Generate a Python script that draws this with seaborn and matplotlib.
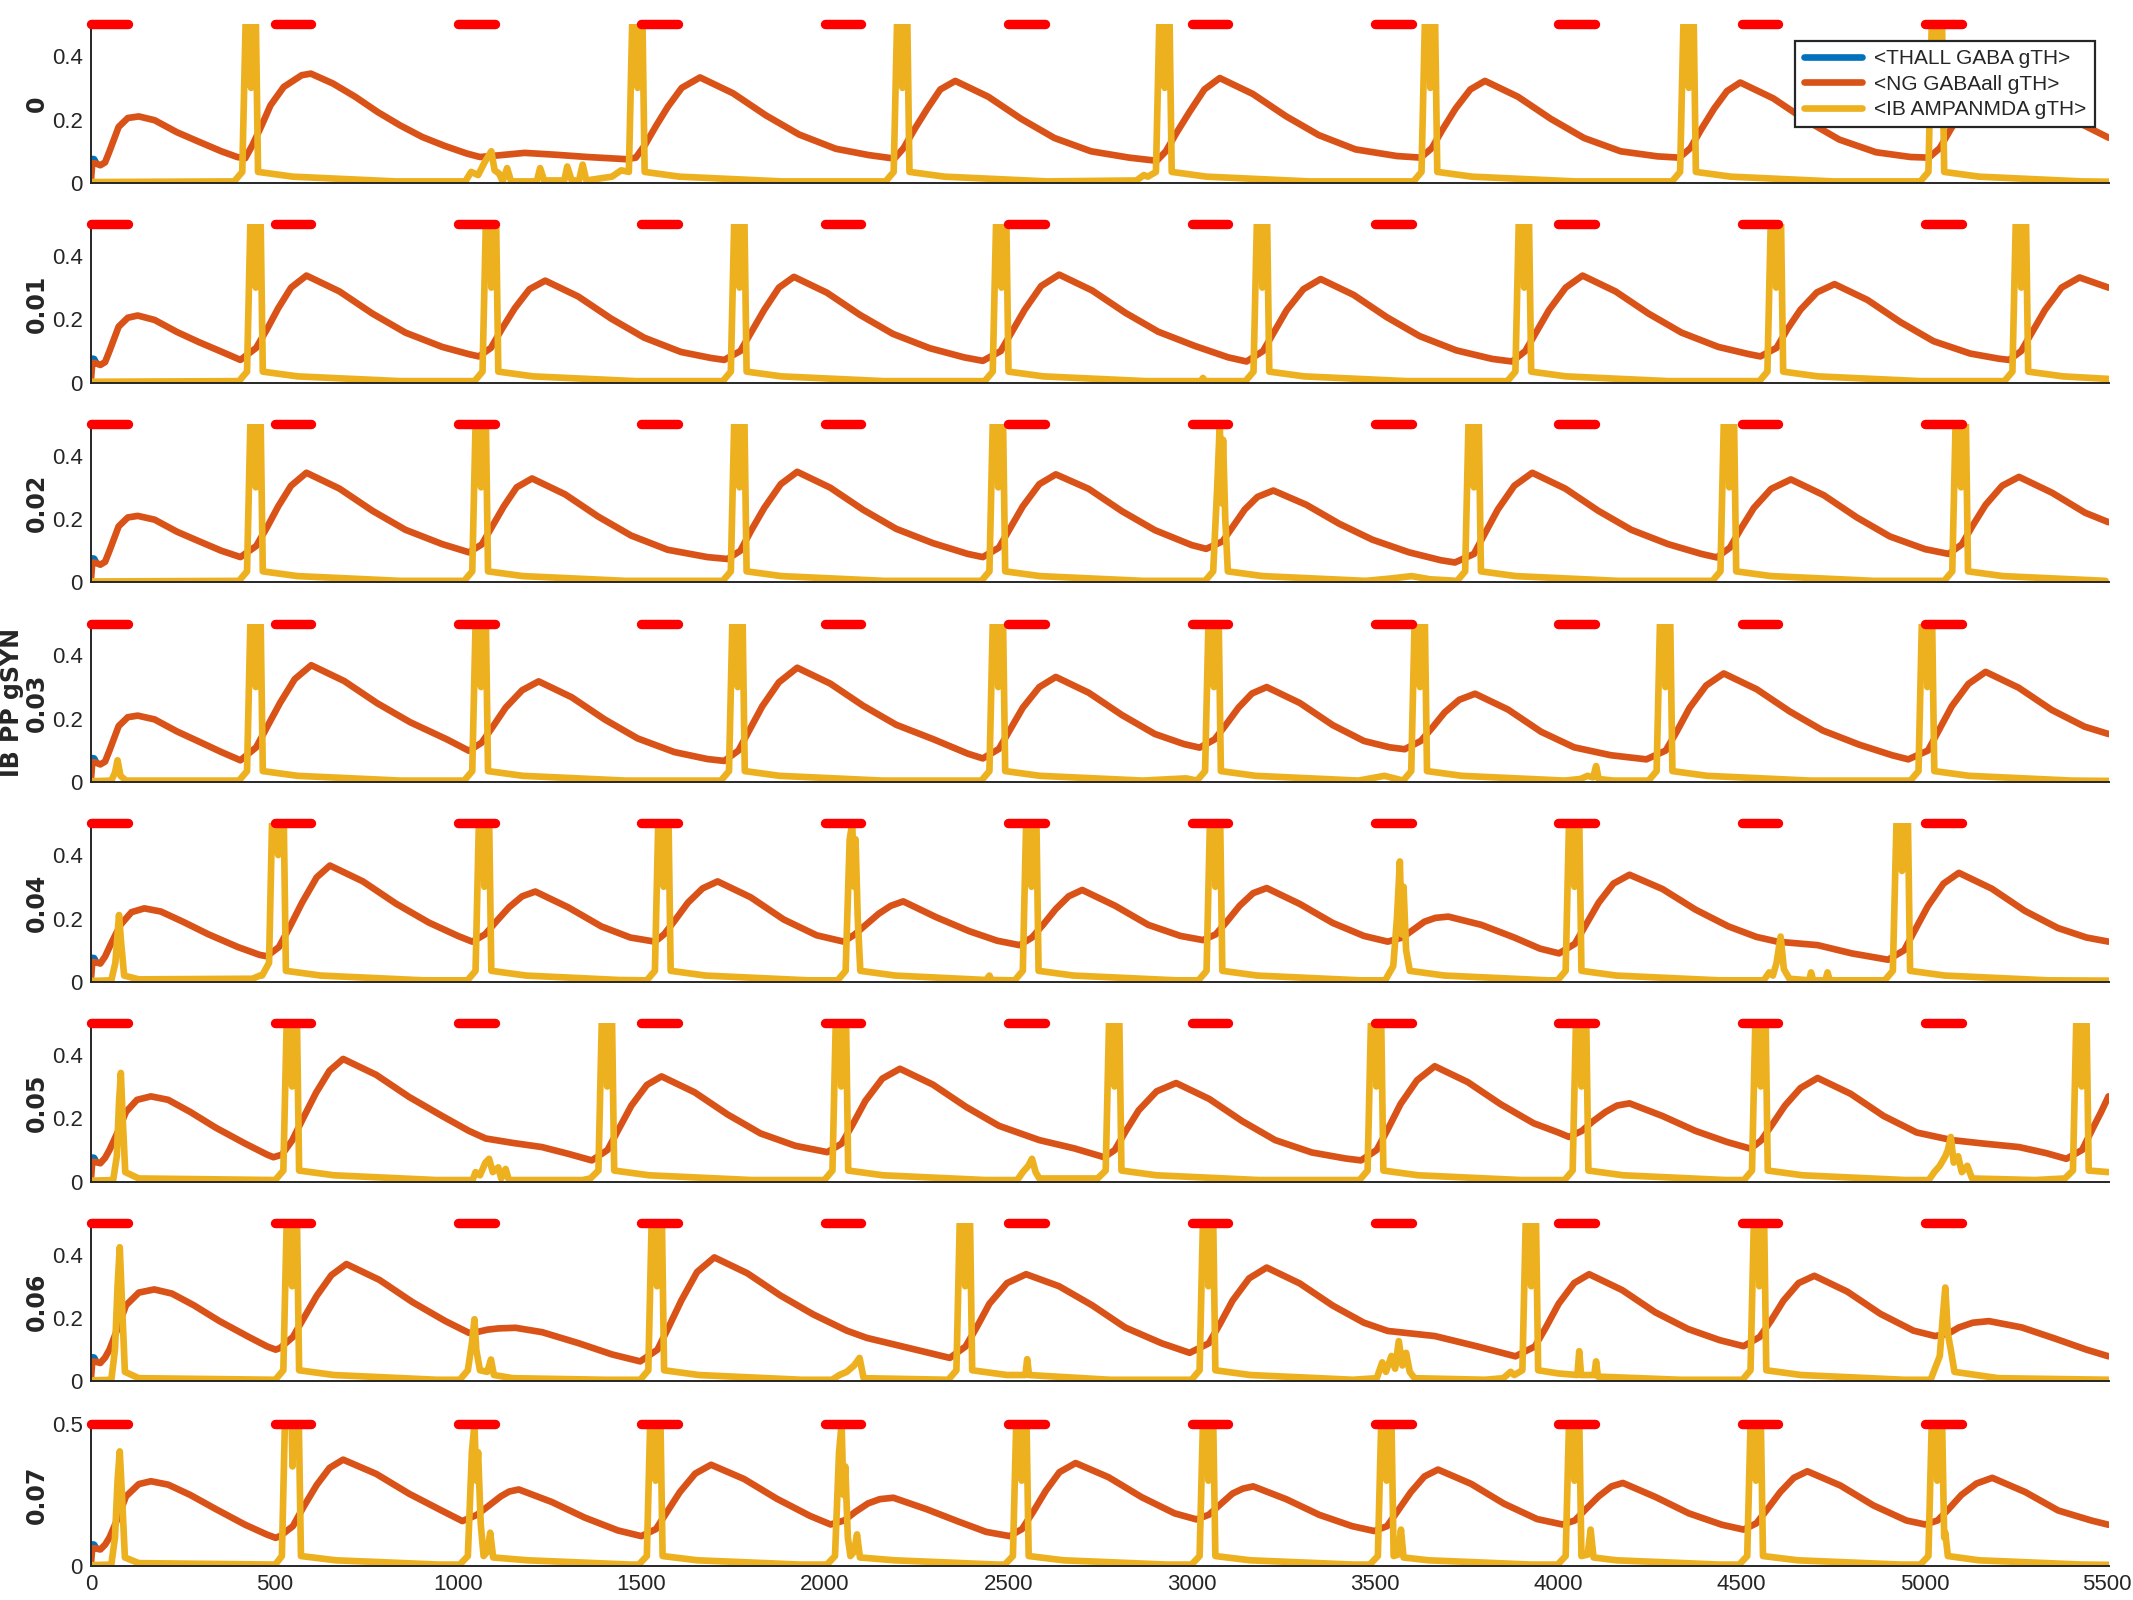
import matplotlib
matplotlib.use("Agg")
import matplotlib.pyplot as plt
from matplotlib.transforms import ScaledTranslation
import seaborn as sns

# ---------------- data ----------------
GSYN_LABELS = ["0", "0.01", "0.02", "0.03", "0.04", "0.05", "0.06", "0.07"]
SERIES_NAMES = ["<THALL GABA gTH>", "<NG GABAall gTH>", "<IB AMPANMDA gTH>"]
STIM_START = [0, 500, 1000, 1500, 2000, 2500, 3000, 3500, 4000, 4500, 5000]
STIM_END = [100, 600, 1100, 1600, 2100, 2600, 3100, 3600, 4100, 4600, 5100]
STIM_LEVEL = 0.5
X_TICKS = [0, 500, 1000, 1500, 2000, 2500, 3000, 3500, 4000, 4500, 5000, 5500]
Y_TICKS = [0, 0.2, 0.4]
Y_TICKS_LAST = [0, 0.5]

THALL = [(0, .06), (3, .076), (8, .075), (14, .062)]

NG_0 = [(0,.015),(3,.062),(12,.062),(25,.056),(38,.065),(50,.10),(75,.177),(100,.205),(130,.21),(173,.198),(234,.16),(294,.13),(355,.10),(398,.082),(420,.078),
        (440,.12),(465,.182),(489,.245),(525,.303),(574,.34),(599,.345),(659,.314),(720,.272),(781,.224),(842,.182),(903,.145),(964,.117),(1024,.093),(1060,.082),(1109,.087),(1182,.095),(1268,.089),(1353,.082),(1460,.075),(1485,.08),
        (1510,.12),(1540,.18),(1572,.24),(1610,.30),(1660,.333),(1750,.283),(1840,.213),(1930,.153),(2030,.108),(2120,.088),(2190,.077),
        (2215,.11),(2245,.17),(2280,.235),(2315,.295),(2356,.322),(2446,.272),(2536,.202),(2626,.142),(2726,.100),(2830,.080),(2905,.070),
        (2930,.10),(2960,.16),(2995,.225),(3035,.295),(3077,.331),(3167,.281),(3257,.211),(3347,.151),(3447,.106),(3560,.085),(3625,.080),
        (3655,.11),(3685,.17),(3720,.235),(3760,.295),(3800,.322),(3890,.272),(3980,.202),(4070,.142),(4170,.100),(4270,.084),(4330,.080),
        (4360,.11),(4390,.17),(4425,.235),(4460,.290),(4496,.317),(4586,.267),(4676,.197),(4766,.137),(4866,.097),(4960,.082),(5010,.080),
        (5040,.11),(5070,.17),(5105,.235),(5150,.30),(5205,.330),(5295,.28),(5385,.21),(5445,.175),(5500,.143)]

NG_1 = [(0,.015),(3,.062),(12,.062),(25,.056),(38,.065),(50,.10),(75,.177),(100,.205),(127,.212),(173,.198),(234,.16),(294,.128),(355,.098),(407,.072),
        (450,.11),(480,.17),(510,.235),(545,.30),(587,.338),(677,.288),(767,.218),(857,.158),(957,.113),(1030,.09),(1057,.083),
        (1090,.11),(1120,.17),(1155,.235),(1195,.295),(1238,.322),(1328,.272),(1418,.202),(1508,.142),(1608,.097),(1690,.078),(1726,.072),
        (1770,.10),(1800,.16),(1835,.23),(1875,.30),(1916,.334),(2006,.284),(2096,.214),(2186,.154),(2286,.109),(2380,.08),(2431,.069),
        (2480,.10),(2510,.16),(2545,.23),(2590,.305),(2639,.341),(2729,.291),(2819,.221),(2909,.161),(3009,.116),(3100,.08),(3150,.067),
        (3195,.10),(3225,.16),(3260,.23),(3305,.295),(3352,.327),(3442,.277),(3532,.207),(3622,.147),(3722,.102),(3820,.075),(3874,.067),
        (3910,.10),(3940,.16),(3975,.23),(4020,.30),(4066,.338),(4156,.288),(4246,.218),(4336,.158),(4436,.113),(4520,.09),(4551,.083),
        (4595,.11),(4625,.17),(4660,.23),(4705,.285),(4753,.311),(4843,.261),(4933,.191),(5023,.131),(5123,.092),(5200,.076),(5229,.072),
        (5262,.10),(5292,.16),(5327,.23),(5372,.30),(5421,.332),(5500,.30)]

NG_2 = [(0,.015),(3,.062),(12,.062),(25,.056),(38,.065),(50,.10),(75,.177),(100,.205),(127,.21),(173,.198),(234,.16),(294,.13),(355,.10),(407,.08),
        (450,.115),(480,.175),(510,.24),(545,.305),(587,.346),(677,.296),(767,.226),(857,.166),(957,.121),(1030,.095),
        (1065,.12),(1095,.18),(1125,.24),(1160,.30),(1202,.328),(1292,.278),(1382,.208),(1472,.148),(1572,.103),(1680,.08),(1735,.074),
        (1770,.10),(1800,.165),(1835,.235),(1880,.31),(1925,.349),(2015,.299),(2105,.229),(2195,.169),(2295,.124),(2390,.09),(2431,.08),
        (2475,.11),(2505,.17),(2540,.24),(2585,.31),(2630,.341),(2720,.295),(2810,.225),(2900,.165),(3000,.118),(3040,.106),
        (3085,.13),(3115,.18),(3145,.23),(3180,.27),(3223,.29),(3313,.245),(3403,.185),(3493,.135),(3593,.095),(3680,.07),(3718,.063),
        (3770,.09),(3800,.155),(3835,.23),(3880,.305),(3929,.346),(4019,.296),(4109,.226),(4199,.166),(4299,.121),(4390,.09),(4432,.079),
        (4468,.11),(4498,.17),(4533,.235),(4580,.295),(4634,.325),(4724,.275),(4814,.205),(4904,.145),(5000,.105),(5064,.09),
        (5100,.12),(5130,.18),(5165,.245),(5210,.305),(5256,.333),(5346,.283),(5436,.22),(5500,.19)]

NG_3 = [(0,.015),(3,.062),(12,.062),(25,.056),(38,.065),(50,.10),(75,.177),(100,.205),(127,.21),(173,.198),(234,.16),(294,.128),(355,.095),(407,.069),
        (450,.11),(480,.175),(515,.25),(555,.325),(600,.369),(690,.319),(780,.249),(870,.189),(970,.135),(1030,.099),
        (1065,.125),(1095,.175),(1130,.235),(1175,.29),(1220,.318),(1310,.268),(1400,.198),(1490,.138),(1590,.095),(1680,.073),(1726,.067),
        (1765,.10),(1795,.165),(1830,.24),(1875,.315),(1925,.361),(2015,.311),(2105,.241),(2195,.181),(2295,.136),(2390,.09),(2431,.075),
        (2475,.105),(2505,.165),(2540,.235),(2585,.30),(2630,.332),(2720,.282),(2810,.212),(2900,.152),(2980,.12),(3022,.109),
        (3063,.135),(3093,.18),(3128,.235),(3165,.28),(3205,.30),(3295,.25),(3385,.18),(3470,.13),(3540,.11),(3581,.104),
        (3625,.13),(3655,.17),(3690,.22),(3730,.26),(3773,.279),(3863,.229),(3953,.159),(4043,.11),(4143,.085),(4240,.072),
        (4293,.10),(4323,.16),(4358,.235),(4403,.305),(4451,.343),(4541,.293),(4631,.223),(4721,.163),(4821,.118),(4910,.085),(4954,.072),
        (5008,.10),(5038,.165),(5073,.24),(5118,.31),(5165,.348),(5255,.298),(5345,.228),(5435,.175),(5500,.152)]

NG_4 = [(0,.015),(3,.062),(12,.062),(25,.058),(38,.08),(54,.12),(80,.18),(110,.22),(145,.232),(190,.222),(250,.19),(320,.15),(400,.11),(460,.085),(479,.081),
        (512,.11),(540,.17),(575,.25),(615,.33),(651,.367),(741,.317),(831,.247),(921,.187),(1000,.145),(1039,.127),
        (1074,.15),(1104,.19),(1139,.235),(1175,.27),(1211,.285),(1301,.235),(1391,.175),(1470,.14),(1537,.127),
        (1562,.15),(1592,.195),(1627,.25),(1667,.295),(1708,.317),(1798,.267),(1888,.197),(1978,.147),(2052,.127),
        (2082,.15),(2112,.18),(2147,.215),(2180,.24),(2214,.254),(2304,.204),(2394,.16),(2470,.13),(2531,.116),
        (2565,.14),(2595,.18),(2630,.23),(2665,.27),(2702,.29),(2792,.24),(2882,.18),(2970,.145),(3031,.132),
        (3066,.15),(3096,.19),(3131,.24),(3168,.28),(3205,.296),(3295,.246),(3385,.186),(3470,.145),(3535,.127),
        (3575,.14),(3605,.165),(3635,.19),(3665,.202),(3700,.206),(3790,.18),(3880,.14),(3950,.105),(4002,.09),
        (4045,.12),(4075,.18),(4110,.25),(4150,.31),(4194,.338),(4284,.293),(4374,.228),(4464,.175),(4540,.142),(4597,.127),(4707,.116),(4800,.09),(4899,.07),
        (4943,.10),(4973,.165),(5008,.24),(5050,.31),(5092,.344),(5182,.294),(5272,.224),(5362,.17),(5440,.14),(5500,.127)]

NG_5 = [(0,.015),(3,.062),(12,.062),(25,.058),(38,.075),(50,.10),(70,.15),(95,.22),(125,.258),(163,.269),(210,.258),(270,.22),(340,.17),(420,.12),(480,.085),(497,.077),
        (520,.085),(548,.13),(578,.20),(613,.28),(650,.35),(687,.387),(777,.337),(867,.267),(957,.207),(1030,.16),(1076,.136),(1150,.122),(1229,.109),(1300,.088),(1365,.067),
        (1408,.10),(1438,.165),(1473,.24),(1515,.305),(1555,.332),(1645,.282),(1735,.212),(1825,.152),(1920,.113),(2007,.093),
        (2046,.12),(2076,.18),(2111,.255),(2157,.325),(2205,.356),(2295,.306),(2385,.236),(2475,.176),(2585,.131),(2680,.105),(2762,.077),
        (2791,.10),(2821,.16),(2856,.225),(2905,.285),(2958,.311),(3048,.261),(3138,.191),(3228,.131),(3328,.092),(3420,.073),(3462,.067),
        (3505,.10),(3535,.165),(3570,.245),(3615,.32),(3663,.364),(3753,.314),(3843,.244),(3933,.184),(4000,.155),(4029,.141),
        (4064,.16),(4094,.19),(4129,.22),(4160,.24),(4194,.247),(4284,.207),(4374,.16),(4460,.125),(4524,.104),
        (4553,.13),(4583,.18),(4618,.24),(4660,.295),(4707,.327),(4797,.277),(4887,.207),(4977,.155),(5073,.131),(5160,.12),(5256,.109),(5330,.09),(5385,.072),
        (5428,.10),(5458,.17),(5480,.22),(5500,.269)]

NG_6 = [(0,.015),(3,.062),(12,.062),(25,.058),(38,.075),(50,.10),(70,.16),(95,.24),(130,.28),(172,.29),(220,.277),(280,.24),(350,.19),(430,.14),(480,.11),(503,.10),
        (515,.105),(550,.14),(580,.20),(615,.27),(655,.335),(696,.37),(786,.32),(876,.25),(966,.19),(1030,.153),
        (1050,.155),(1080,.163),(1110,.167),(1157,.169),(1230,.155),(1330,.12),(1420,.085),(1497,.063),
        (1544,.10),(1574,.17),(1609,.255),(1652,.345),(1699,.391),(1789,.341),(1879,.271),(1969,.211),(2060,.16),(2115,.137),(2230,.105),(2341,.074),
        (2384,.11),(2414,.17),(2449,.245),(2497,.31),(2549,.338),(2639,.30),(2729,.24),(2819,.17),(2919,.12),(2995,.09),
        (3047,.12),(3077,.18),(3112,.255),(3157,.325),(3205,.359),(3295,.309),(3385,.239),(3470,.185),(3535,.159),(3663,.143),(3780,.11),(3883,.079),
        (3936,.11),(3966,.17),(4001,.245),(4043,.31),(4084,.338),(4174,.288),(4264,.218),(4354,.165),(4440,.13),(4505,.111),
        (4549,.14),(4579,.19),(4614,.255),(4655,.31),(4698,.333),(4788,.283),(4878,.213),(4968,.16),(5027,.143),
        (5062,.15),(5092,.17),(5130,.185),(5174,.19),(5264,.17),(5354,.135),(5440,.10),(5500,.079)]

NG_7 = [(0,.015),(3,.062),(12,.062),(25,.058),(38,.075),(50,.10),(70,.16),(95,.245),(130,.288),(163,.298),(210,.286),(270,.25),(340,.20),(420,.145),(480,.11),(503,.099),
        (515,.105),(550,.14),(580,.21),(615,.285),(650,.345),(687,.374),(777,.324),(867,.254),(957,.194),(1012,.158),
        (1052,.18),(1082,.21),(1117,.245),(1140,.262),(1166,.269),(1256,.225),(1346,.17),(1436,.125),(1500,.105),
        (1540,.13),(1570,.19),(1605,.26),(1647,.325),(1690,.356),(1780,.306),(1870,.236),(1960,.176),(2016,.146),
        (2053,.16),(2083,.19),(2118,.22),(2150,.235),(2187,.24),(2277,.20),(2367,.155),(2440,.12),(2504,.105),
        (2538,.13),(2568,.19),(2603,.265),(2640,.33),(2684,.362),(2774,.312),(2864,.242),(2954,.185),(3013,.164),
        (3047,.18),(3077,.215),(3112,.255),(3140,.272),(3168,.28),(3258,.235),(3348,.18),(3438,.14),(3498,.123),
        (3533,.14),(3563,.195),(3598,.26),(3635,.315),(3672,.339),(3762,.289),(3852,.219),(3942,.165),(4011,.146),
        (4045,.16),(4075,.20),(4110,.245),(4145,.28),(4176,.292),(4266,.242),(4356,.185),(4446,.145),(4505,.128),
        (4540,.15),(4570,.20),(4605,.26),(4642,.31),(4679,.333),(4769,.283),(4859,.213),(4949,.16),(5000,.146),
        (5034,.16),(5064,.20),(5099,.25),(5140,.29),(5183,.31),(5273,.26),(5363,.195),(5453,.16),(5500,.145)]

IB_0 = [(0,.003),(390,.005),(412,.035),(423,.6),(433,.6),(436,.3),(440,.6),(448,.6),(455,.035),(550,.02),(830,.005),
        (1020,.005),(1036,.035),(1055,.025),(1073,.066),(1091,.10),(1100,.04),(1112,.03),(1122,.005),(1134,.047),(1145,.005),(1215,.005),(1224,.047),(1235,.008),(1290,.008),(1298,.052),(1310,.008),(1330,.008),(1340,.058),(1350,.008),(1420,.02),(1445,.04),(1466,.035),
        (1477,.6),(1487,.6),(1490,.3),(1494,.6),(1502,.6),(1509,.035),(1604,.02),(1884,.005),
        (2166,.005),(2188,.035),(2199,.6),(2209,.6),(2212,.3),(2216,.6),(2224,.6),(2231,.035),(2326,.02),(2606,.005),
        (2850,.008),(2870,.025),(2881,.02),(2903,.035),(2914,.6),(2924,.6),(2927,.3),(2931,.6),(2939,.6),(2946,.035),(3041,.02),(3321,.005),
        (3605,.005),(3627,.035),(3638,.6),(3648,.6),(3651,.3),(3655,.6),(3663,.6),(3670,.035),(3765,.02),(4045,.005),
        (4310,.005),(4332,.035),(4343,.6),(4353,.6),(4356,.3),(4360,.6),(4368,.6),(4375,.035),(4470,.02),(4750,.005),
        (4987,.005),(5009,.035),(5020,.6),(5030,.6),(5033,.3),(5037,.6),(5045,.6),(5052,.035),(5147,.02),(5427,.005),(5500,.004)]

IB_1 = [(0,.003),(403,.005),(425,.035),(436,.6),(446,.6),(449,.3),(453,.6),(461,.6),(468,.035),(563,.02),(843,.005),
        (1045,.005),(1067,.035),(1078,.6),(1088,.6),(1091,.3),(1095,.6),(1103,.6),(1110,.035),(1205,.02),(1485,.005),
        (1722,.005),(1744,.035),(1755,.6),(1765,.6),(1768,.3),(1772,.6),(1780,.6),(1787,.035),(1882,.02),(2162,.005),
        (2436,.005),(2458,.035),(2469,.6),(2479,.6),(2482,.3),(2486,.6),(2494,.6),(2501,.035),(2596,.02),(2876,.005),
        (3025,.005),(3031,.015),(3037,.005),
        (3147,.005),(3169,.035),(3180,.6),(3190,.6),(3193,.3),(3197,.6),(3205,.6),(3212,.035),(3307,.02),(3587,.005),
        (3861,.005),(3883,.035),(3894,.6),(3904,.6),(3907,.3),(3911,.6),(3919,.6),(3926,.035),(4021,.02),(4301,.005),
        (4548,.005),(4570,.035),(4581,.6),(4591,.6),(4594,.3),(4598,.6),(4606,.6),(4613,.035),(4708,.02),(4988,.005),
        (5216,.005),(5238,.035),(5249,.6),(5259,.6),(5262,.3),(5266,.6),(5274,.6),(5281,.035),(5376,.02),(5500,.012)]

IB_2 = [(0,.003),(403,.005),(425,.035),(436,.6),(446,.6),(449,.3),(453,.6),(461,.6),(468,.035),(563,.02),(843,.005),
        (1017,.005),(1039,.035),(1050,.6),(1060,.6),(1063,.3),(1067,.6),(1075,.6),(1082,.035),(1177,.02),(1457,.005),
        (1722,.005),(1744,.035),(1755,.6),(1765,.6),(1768,.3),(1772,.6),(1780,.6),(1787,.035),(1882,.02),(2162,.005),
        (2427,.005),(2449,.035),(2460,.6),(2470,.6),(2473,.3),(2477,.6),(2485,.6),(2492,.035),(2587,.02),(2867,.005),
        (3037,.005),(3059,.035),(3070,.3),(3077,.5),(3082,.25),(3086,.45),(3092,.2),(3099,.035),(3194,.02),(3474,.005),
        (3540,.012),(3600,.02),(3650,.01),
        (3724,.005),(3746,.035),(3757,.6),(3767,.6),(3770,.3),(3774,.6),(3782,.6),(3789,.035),(3884,.02),(4164,.005),
        (4420,.005),(4442,.035),(4453,.6),(4463,.6),(4466,.3),(4470,.6),(4478,.6),(4485,.035),(4580,.02),(4860,.005),
        (5052,.005),(5074,.035),(5085,.6),(5095,.6),(5098,.3),(5102,.6),(5110,.6),(5117,.035),(5212,.02),(5492,.005)]

IB_3 = [(0,.003),(55,.005),(65,.03),(72,.069),(80,.02),(95,.005),
        (403,.005),(425,.035),(436,.6),(446,.6),(449,.3),(453,.6),(461,.6),(468,.035),(563,.02),(843,.005),
        (1017,.005),(1039,.035),(1050,.6),(1060,.6),(1063,.3),(1067,.6),(1075,.6),(1082,.035),(1177,.02),(1457,.005),
        (1717,.005),(1739,.035),(1750,.6),(1760,.6),(1763,.3),(1767,.6),(1775,.6),(1782,.035),(1877,.02),(2157,.005),
        (2427,.005),(2449,.035),(2460,.6),(2470,.6),(2473,.3),(2477,.6),(2485,.6),(2492,.035),(2587,.02),(2867,.005),
        (2985,.012),(3015,.005),(3037,.035),(3048,.6),(3058,.6),(3061,.3),(3065,.6),(3073,.6),(3080,.035),(3175,.02),(3455,.005),
        (3526,.02),(3577,.005),(3599,.035),(3610,.6),(3620,.6),(3623,.3),(3627,.6),(3635,.6),(3642,.035),(3737,.02),(4017,.005),
        (4060,.01),(4080,.02),(4095,.015),(4103,.051),(4110,.01),(4150,.005),
        (4246,.005),(4268,.035),(4279,.6),(4289,.6),(4292,.3),(4296,.6),(4304,.6),(4311,.035),(4406,.02),(4686,.005),
        (4960,.005),(4982,.035),(4993,.6),(5003,.6),(5006,.3),(5010,.6),(5018,.6),(5025,.035),(5120,.02),(5400,.005),(5500,.004)]

IB_4 = [(0,.003),(55,.005),(66,.06),(72,.15),(76,.211),(82,.12),(90,.02),(130,.008),
        (440,.01),(460,.02),(466,.02),(485,.06),(495,.6),(505,.6),(510,.4),(515,.6),(524,.6),(531,.035),(626,.02),(906,.005),
        (1026,.005),(1048,.035),(1059,.6),(1069,.6),(1072,.3),(1076,.6),(1084,.6),(1091,.035),(1186,.02),(1440,.006),
        (1515,.005),(1537,.035),(1548,.6),(1558,.6),(1561,.3),(1565,.6),(1573,.6),(1580,.035),(1675,.02),(1955,.005),
        (2035,.005),(2057,.035),(2068,.45),(2075,.5),(2080,.3),(2084,.45),(2090,.2),(2097,.035),(2192,.02),(2440,.006),
        (2449,.02),(2455,.006),
        (2518,.005),(2540,.035),(2551,.6),(2561,.6),(2564,.3),(2568,.6),(2576,.6),(2583,.035),(2678,.02),(2958,.005),
        (3019,.005),(3041,.035),(3052,.6),(3062,.6),(3065,.3),(3069,.6),(3077,.6),(3084,.035),(3179,.02),(3459,.005),
        (3528,.005),(3550,.05),(3560,.2),(3568,.38),(3573,.15),(3578,.3),(3585,.1),(3595,.035),(3690,.02),(3970,.005),
        (3998,.005),(4020,.035),(4031,.6),(4041,.6),(4044,.3),(4048,.6),(4056,.6),(4063,.035),(4158,.02),(4438,.005),
        (4560,.005),(4575,.03),(4585,.02),(4595,.06),(4606,.143),(4615,.04),(4630,.01),(4684,.005),(4689,.03),(4695,.005),(4728,.005),(4734,.03),(4740,.005),
        (4890,.005),(4912,.035),(4924,.6),(4934,.6),(4937,.35),(4941,.6),(4952,.6),(4959,.035),(5054,.02),(5334,.005),(5500,.004)]

IB_5 = [(0,.003),(60,.005),(70,.08),(76,.25),(81,.343),(86,.2),(93,.03),(130,.01),
        (502,.005),(524,.035),(535,.6),(545,.6),(548,.3),(552,.6),(560,.6),(567,.035),(662,.02),(942,.005),
        (1040,.005),(1048,.03),(1060,.02),(1075,.06),(1085,.072),(1095,.03),(1110,.045),(1118,.01),(1130,.04),(1139,.005),(1340,.005),
        (1361,.01),(1383,.035),(1394,.6),(1404,.6),(1407,.3),(1411,.6),(1419,.6),(1426,.035),(1521,.02),(1801,.005),
        (1999,.005),(2021,.035),(2032,.6),(2042,.6),(2045,.3),(2049,.6),(2057,.6),(2064,.035),(2159,.02),(2439,.005),
        (2525,.005),(2540,.03),(2555,.05),(2565,.072),(2575,.03),(2585,.01),(2700,.01),
        (2744,.01),(2766,.035),(2777,.6),(2787,.6),(2790,.3),(2794,.6),(2802,.6),(2809,.035),(2904,.02),(3184,.005),
        (3458,.005),(3480,.035),(3491,.6),(3501,.6),(3504,.3),(3508,.6),(3516,.6),(3523,.035),(3618,.02),(3898,.005),
        (4017,.005),(4039,.035),(4050,.6),(4060,.6),(4063,.3),(4067,.6),(4075,.6),(4082,.035),(4177,.02),(4457,.005),
        (4506,.005),(4528,.035),(4539,.6),(4549,.6),(4552,.3),(4556,.6),(4564,.6),(4571,.035),(4666,.02),(4946,.005),
        (5010,.005),(5025,.03),(5040,.05),(5055,.08),(5062,.10),(5070,.141),(5078,.06),(5090,.08),(5100,.03),(5115,.05),(5128,.01),(5300,.005),
        (5381,.01),(5403,.035),(5414,.6),(5424,.6),(5427,.3),(5431,.6),(5439,.6),(5446,.035),(5500,.03)]

IB_6 = [(0,.003),(55,.005),(65,.10),(72,.30),(78,.423),(84,.25),(92,.03),(130,.01),
        (502,.005),(524,.035),(535,.6),(545,.6),(548,.3),(552,.6),(560,.6),(567,.035),(662,.02),(942,.005),
        (1005,.005),(1027,.035),(1038,.12),(1045,.196),(1050,.10),(1060,.035),(1080,.03),(1090,.069),(1098,.02),(1150,.01),(1400,.005),
        (1497,.005),(1519,.035),(1530,.6),(1540,.6),(1543,.3),(1547,.6),(1555,.6),(1562,.035),(1657,.02),(1937,.005),
        (2020,.005),(2040,.02),(2060,.03),(2080,.05),(2095,.074),(2106,.01),
        (2337,.005),(2359,.035),(2370,.6),(2380,.6),(2383,.3),(2387,.6),(2395,.6),(2402,.035),(2497,.02),(2547,.02),(2552,.07),(2557,.02),(2777,.005),
        (3000,.005),(3022,.035),(3033,.6),(3043,.6),(3046,.3),(3050,.6),(3058,.6),(3065,.035),(3160,.02),(3440,.005),
        (3505,.01),(3520,.06),(3530,.03),(3545,.08),(3555,.04),(3565,.127),(3575,.05),(3585,.09),(3595,.03),(3608,.01),(3800,.005),
        (3850,.01),(3870,.03),(3880,.02),(3902,.035),(3913,.6),(3923,.6),(3926,.3),(3930,.6),(3938,.6),(3945,.035),(4000,.025),(4052,.02),(4057,.095),(4062,.02),(4098,.02),(4103,.063),(4108,.015),(4332,.005),
        (4502,.005),(4524,.035),(4535,.6),(4545,.6),(4548,.3),(4552,.6),(4560,.6),(4567,.035),(4662,.02),(4942,.005),
        (5015,.005),(5030,.05),(5040,.08),(5048,.20),(5055,.296),(5062,.15),(5070,.10),(5080,.03),(5200,.01),(5500,.005)]

IB_7 = [(0,.003),(55,.005),(65,.10),(72,.30),(78,.403),(84,.25),(92,.03),(130,.01),
        (502,.005),(520,.035),(530,.6),(545,.6),(549,.35),(553,.6),(565,.6),(572,.035),(667,.02),(947,.005),
        (1005,.005),(1027,.035),(1038,.40),(1045,.50),(1050,.30),(1055,.40),(1062,.15),(1070,.035),(1080,.05),(1088,.117),(1096,.03),(1190,.02),(1470,.005),
        (1493,.005),(1515,.035),(1526,.6),(1536,.6),(1539,.3),(1543,.6),(1551,.6),(1558,.035),(1653,.02),(1933,.005),
        (2006,.005),(2028,.035),(2039,.40),(2046,.50),(2051,.25),(2056,.35),(2063,.10),(2070,.035),(2080,.05),(2088,.111),(2096,.03),(2190,.02),(2470,.005),
        (2491,.005),(2513,.035),(2524,.6),(2534,.6),(2537,.3),(2541,.6),(2549,.6),(2556,.035),(2651,.02),(2931,.005),
        (3000,.005),(3022,.035),(3033,.6),(3043,.6),(3046,.3),(3050,.6),(3058,.6),(3065,.035),(3160,.02),(3440,.005),
        (3486,.005),(3508,.035),(3519,.6),(3529,.6),(3532,.3),(3536,.6),(3544,.6),(3551,.035),(3563,.04),(3571,.128),(3578,.03),(3646,.02),(3926,.005),
        (3998,.005),(4020,.035),(4031,.6),(4041,.6),(4044,.3),(4048,.6),(4056,.6),(4063,.035),(4080,.04),(4088,.128),(4096,.03),(4158,.02),(4438,.005),
        (4493,.005),(4515,.035),(4526,.6),(4536,.6),(4539,.3),(4543,.6),(4551,.6),(4558,.035),(4653,.02),(4933,.005),
        (4987,.005),(5009,.035),(5020,.6),(5030,.6),(5033,.3),(5037,.6),(5045,.6),(5052,.10),(5055,.117),(5062,.035),(5147,.02),(5427,.005),(5500,.004)]

NG_ALL = [NG_0, NG_1, NG_2, NG_3, NG_4, NG_5, NG_6, NG_7]
IB_ALL = [IB_0, IB_1, IB_2, IB_3, IB_4, IB_5, IB_6, IB_7]

# ---------------- style ----------------
sns.set_style("white")
plt.rcParams["font.family"] = ["Liberation Sans", "DejaVu Sans"]
INK = "#262626"
C_BLUE, C_ORANGE, C_YELLOW, C_RED = "#0072BD", "#D95319", "#EDB120", "#FF0000"
LABEL_FONT = ["DejaVu Sans"]

fig = plt.figure(figsize=(2133 / 200, 1600 / 200), dpi=200)

H_IMG = 1176.0
LEFT = 67 / 1568
WIDTH = (1550 - 67) / 1568
LW = 2.4

axes = []
for k in range(8):
    if k < 7:
        y0 = 134.5 + 146.8 * k
        h = 116.5
    else:
        y0 = 1151.0
        h = 104.5
    ax = fig.add_axes([LEFT, 1 - y0 / H_IMG, WIDTH, h / H_IMG])
    axes.append(ax)

    tb, vb = zip(*THALL)
    sns.lineplot(x=list(tb), y=list(vb), ax=ax, color=C_BLUE, linewidth=LW,
                 sort=False, estimator=None, legend=False)
    tn, vn = zip(*NG_ALL[k])
    sns.lineplot(x=list(tn), y=list(vn), ax=ax, color=C_ORANGE, linewidth=LW,
                 sort=False, estimator=None, legend=False)
    ti, vi = zip(*IB_ALL[k])
    sns.lineplot(x=list(ti), y=list(vi), ax=ax, color=C_YELLOW, linewidth=LW,
                 sort=False, estimator=None, legend=False)

    bars = ax.hlines([STIM_LEVEL] * len(STIM_START), STIM_START, STIM_END,
                     colors=C_RED, linewidth=3.4, clip_on=False, zorder=6)
    bars.set_capstyle("round")

    ax.set_xlim(0, 5500)
    ax.set_ylim(0, 0.5)
    ax.set_xticks(X_TICKS)
    if k < 7:
        ax.set_yticks(Y_TICKS)
        ax.set_yticklabels([f"{v:g}" for v in Y_TICKS])
        ax.set_xticklabels([])
    else:
        ax.set_yticks(Y_TICKS_LAST)
        ax.set_yticklabels([f"{v:g}" for v in Y_TICKS_LAST])
        ax.set_xticklabels([str(v) for v in X_TICKS])
    ax.set_xlabel("")
    ax.set_ylabel("")
    for side in ("top", "right"):
        ax.spines[side].set_visible(False)
    for side in ("left", "bottom"):
        ax.spines[side].set_color(INK)
        ax.spines[side].set_linewidth(0.7)
    ax.tick_params(direction="in", length=7, width=0.7, colors=INK,
                   labelsize=8, pad=3)
    ax.patch.set_alpha(0)

    # panel label
    yc = 1 - (y0 - h / 2) / H_IMG
    fig.text(27 / 1568, yc, GSYN_LABELS[k], rotation=90, ha="center", va="center",
             fontsize=8.5, fontweight="bold", family=LABEL_FONT)
    if k == 3:
        fig.text(9 / 1568, yc, "IB PP gSYN", rotation=90, ha="center", va="center",
                 fontsize=8.5, fontweight="bold", family=LABEL_FONT)

# keep the last x tick label ("5500") inside the figure, as in the reference
last_lbl = axes[-1].get_xticklabels()[-1]
last_lbl.set_horizontalalignment("right")
last_lbl.set_transform(last_lbl.get_transform() + ScaledTranslation(23 / 200, 0, fig.dpi_scale_trans))

# legend in first panel
lines = axes[0].get_lines()[:3]
leg = axes[0].legend(lines, SERIES_NAMES, loc="upper right",
                     bbox_to_anchor=(2095 / 2133, 1 - 41 / 1600),
                     bbox_transform=fig.transFigure, fontsize=7.5,
                     frameon=True, fancybox=False, framealpha=1,
                     edgecolor=INK, handlelength=2.8, borderpad=0.4,
                     labelspacing=0.3, handletextpad=0.6, borderaxespad=0)
leg.get_frame().set_linewidth(0.8)
leg.set_zorder(20)

fig.savefig("out.png", dpi=200)
